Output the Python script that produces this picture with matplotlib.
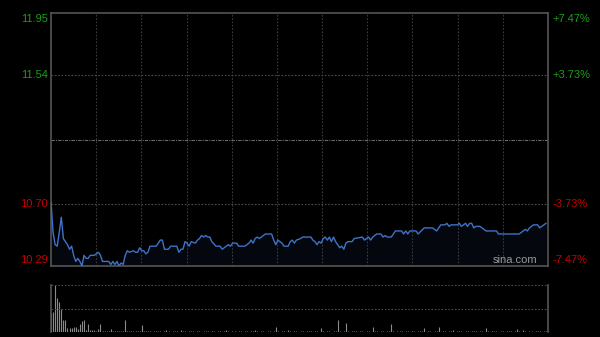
import matplotlib.pyplot as plt
import numpy as np

# intraday price, minutes from open
minutes = [0, 1, 2, 3, 4, 5, 6, 7, 8, 9, 10, 11, 12, 13, 14, 15, 16, 17, 18, 19,
           21, 23, 24, 25, 27, 28, 29, 30, 31, 32, 33, 34, 35, 36, 37, 38, 40, 41, 42, 43,
           44, 45, 46, 47, 48, 51, 53, 54, 55, 57, 58, 61, 62, 63, 64, 65, 66, 67, 68, 70,
           71, 72, 73, 74, 75, 76, 77, 78, 80, 82, 83, 84, 86, 87, 88, 90, 91, 94, 96, 97,
           98, 99, 100, 101, 102, 104, 107, 108, 109, 110, 112, 113, 115, 116, 117, 118, 119, 121, 122, 126,
           127, 128, 129, 130, 131, 132, 133, 134, 135, 136, 137, 138, 140, 141, 142, 143, 144, 146, 147, 151,
           152, 154, 155, 156, 158, 160, 161, 162, 163, 164, 165, 167, 170, 171, 172, 173, 174, 177, 178, 181,
           185, 187, 189, 191, 192, 193, 194, 197, 198, 199, 200, 201, 202, 203, 204, 205, 206, 208, 210, 211,
           216, 217, 227, 228, 229, 230, 231, 232, 234, 236, 237, 238, 239, 240]
prices = [10.71, 10.51, 10.43, 10.42, 10.51, 10.61, 10.47, 10.45, 10.43, 10.40, 10.42, 10.36, 10.32, 10.34, 10.32, 10.29, 10.36, 10.34, 10.34, 10.36,
          10.36, 10.38, 10.36, 10.32, 10.32, 10.32, 10.30, 10.32, 10.30, 10.32, 10.29, 10.31, 10.30, 10.36, 10.39, 10.38, 10.39, 10.38, 10.38, 10.41,
          10.39, 10.39, 10.37, 10.38, 10.42, 10.42, 10.46, 10.46, 10.40, 10.40, 10.42, 10.42, 10.38, 10.40, 10.40, 10.45, 10.44, 10.42, 10.45, 10.44,
          10.46, 10.47, 10.49, 10.48, 10.49, 10.48, 10.48, 10.45, 10.42, 10.42, 10.40, 10.41, 10.43, 10.42, 10.44, 10.44, 10.42, 10.42, 10.44, 10.46,
          10.44, 10.47, 10.48, 10.47, 10.48, 10.50, 10.50, 10.46, 10.43, 10.46, 10.44, 10.42, 10.42, 10.45, 10.46, 10.44, 10.46, 10.47, 10.48, 10.48,
          10.46, 10.45, 10.43, 10.45, 10.44, 10.47, 10.48, 10.46, 10.48, 10.45, 10.48, 10.45, 10.41, 10.42, 10.40, 10.44, 10.45, 10.45, 10.47, 10.48,
          10.46, 10.48, 10.46, 10.48, 10.50, 10.50, 10.48, 10.49, 10.48, 10.48, 10.48, 10.52, 10.52, 10.50, 10.52, 10.50, 10.52, 10.52, 10.50, 10.54,
          10.54, 10.52, 10.56, 10.56, 10.57, 10.55, 10.56, 10.56, 10.57, 10.55, 10.56, 10.57, 10.55, 10.57, 10.57, 10.54, 10.55, 10.55, 10.53, 10.52,
          10.52, 10.50, 10.50, 10.51, 10.52, 10.53, 10.52, 10.54, 10.56, 10.56, 10.54, 10.55, 10.56, 10.57]

# volume per minute (relative, 100 = panel top)
volume = [40, 43, 100, 72, 64, 50, 26, 26, 8, 8, 8, 10, 11, 6, 18, 23, 26, 4, 16, 4,
          4, 4, 3, 6, 18, 3, 2, 3, 2, 6, 2, 3, 2, 2, 3, 2, 26, 2, 3, 2,
          2, 3, 2, 2, 15, 2, 3, 2, 2, 1, 2, 3, 2, 2, 1, 2, 5, 2, 1, 2,
          2, 2, 1, 4, 2, 2, 1, 2, 2, 3, 1, 2, 2, 1, 2, 3, 2, 1, 2, 2,
          1, 2, 2, 1, 2, 4, 2, 1, 2, 2, 1, 2, 3, 1, 2, 2, 1, 2, 2, 5,
          2, 1, 2, 2, 1, 2, 3, 1, 2, 10, 2, 1, 2, 2, 1, 5, 2, 1, 2, 3,
          1, 2, 2, 1, 2, 2, 3, 1, 2, 2, 1, 8, 2, 1, 2, 2, 1, 2, 3, 26,
          2, 1, 2, 20, 2, 1, 2, 2, 3, 1, 2, 2, 1, 2, 2, 1, 11, 2, 2, 1,
          2, 3, 1, 2, 2, 16, 2, 1, 2, 2, 3, 1, 2, 2, 1, 2, 2, 1, 2, 3,
          2, 8, 1, 2, 2, 1, 2, 3, 10, 1, 2, 2, 1, 2, 2, 4, 1, 2, 2, 3,
          1, 2, 2, 1, 2, 3, 2, 1, 2, 2, 1, 8, 2, 1, 2, 2, 3, 1, 2, 2,
          1, 2, 2, 3, 1, 2, 6, 2, 1, 4, 2, 1, 2, 2, 1, 2, 3, 2, 1, 2,
          2]

prev_close = 11.12
left_labels = ["11.95", "11.54", "10.70", "10.29"]
left_values = [11.95, 11.54, 10.70, 10.29]
right_labels = ["+7.47%", "+3.73%", "-3.73%", "-7.47%"]
label_colors = ["#1a9e1a", "#1a9e1a", "#c40000", "#c40000"]

n_min = 241
frame = "#555555"
grid = "#3a3a3a"

fig = plt.figure(figsize=(6, 3.37), dpi=100, facecolor="black")
ax = fig.add_axes([51/600, 71/337, 497/600, 253/337], facecolor="black")
axv = fig.add_axes([51/600, 5/337, 497/600, 47/337], facecolor="black")

# price panel
ax.plot(minutes, prices, color="#3f72c8", lw=1.0, zorder=3)
ax.fill_between(minutes, prices, 10.29, color="#3f72c8", alpha=0.07, lw=0)
ax.set_xlim(0, n_min)
ax.set_ylim(10.29, 11.95)
for k in range(1, 11):
    ax.axvline(n_min * k / 11, color=grid, lw=0.8, ls=(0, (1.5, 1.5)), zorder=1)
for v in [11.54, 10.70]:
    ax.axhline(v, color="#4a4a4a", lw=0.8, ls=(0, (1.5, 1.5)), zorder=1)
ax.axhline(prev_close, color="#6a6a6a", lw=0.8, ls=(0, (3, 1, 1, 1)), zorder=1)
ax.set_xticks([])
ax.set_yticks([])
for s in ax.spines.values():
    s.set_color(frame)
    s.set_linewidth(1.2)

tr_l = ax.get_yaxis_transform()
for i, (lab, val, c) in enumerate(zip(left_labels, left_values, label_colors)):
    va = "top" if i == 0 else ("bottom" if i == 3 else "center")
    off = -0.004 if i == 0 else (0.004 if i == 3 else 0)
    ax.text(-0.007, val + off, lab, color=c, fontsize=8, ha="right", va=va,
            transform=tr_l, family="Liberation Sans")
    ax.text(1.009, val + off, right_labels[i], color=c, fontsize=8, ha="left", va=va,
            transform=tr_l, family="Liberation Sans")

ax.text(0.979, 0.005, "sina.com", color="#9a9a9a", fontsize=8, ha="right", va="bottom",
        transform=ax.transAxes, family="Liberation Sans", zorder=4)

# volume panel
axv.vlines(np.arange(len(volume)), 0, volume, color="#8a8a8a", lw=0.8)
axv.set_xlim(0, n_min)
axv.set_ylim(0, 100)
axv.axhline(100, color="#4a4a4a", lw=0.8, ls=(0, (1.5, 1.5)))
axv.axhline(50, color="#4a4a4a", lw=0.8, ls=(0, (1.5, 1.5)))
axv.set_xticks([])
axv.set_yticks([])
for side in ["top", "bottom"]:
    axv.spines[side].set_visible(False)
for side in ["left", "right"]:
    axv.spines[side].set_color(frame)
    axv.spines[side].set_linewidth(1.2)

plt.savefig("out.png", dpi=100, facecolor="black")
